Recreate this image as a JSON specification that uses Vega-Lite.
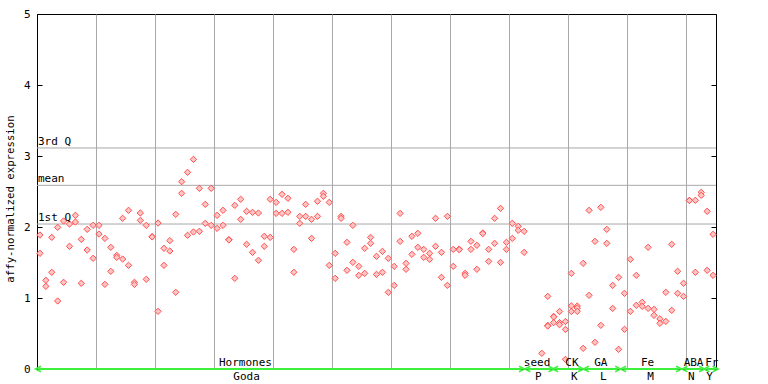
{
  "$schema": "https://vega.github.io/schema/vega-lite/v6.json",
  "width": 679,
  "height": 355,
  "autosize": {"type": "none"},
  "padding": {"left": 37, "top": 14, "right": 52, "bottom": 15},
  "background": "white",
  "config": {
    "view": {"stroke": "black", "strokeWidth": 1},
    "font": "DejaVu Sans Mono",
    "axis": {"labelFont": "DejaVu Sans Mono", "titleFont": "DejaVu Sans Mono"},
    "axisX": {"labels": false, "ticks": false, "domain": false, "grid": true, "gridColor": "#a9a9a9", "gridOpacity": 1}
  },
  "datasets": {
    "pts": [
      {"s":0,"v":1.887},{"s":0,"v":1.629},
      {"s":1,"v":1.249},{"s":1,"v":1.164},
      {"s":2,"v":1.854},{"s":2,"v":1.362},
      {"s":3,"v":1.995},{"s":3,"v":0.958},
      {"s":4,"v":2.085},{"s":4,"v":1.221},
      {"s":5,"v":2.042},{"s":5,"v":1.728},
      {"s":6,"v":2.164},{"s":6,"v":2.070},
      {"s":7,"v":1.826},{"s":7,"v":1.207},
      {"s":8,"v":1.967},{"s":8,"v":1.676},
      {"s":9,"v":2.023},{"s":9,"v":1.559},
      {"s":10,"v":2.023},{"s":10,"v":1.901},
      {"s":11,"v":1.840},{"s":11,"v":1.192},
      {"s":12,"v":1.714},{"s":12,"v":1.376},
      {"s":13,"v":1.601},{"s":13,"v":1.573},
      {"s":14,"v":2.122},{"s":14,"v":1.549},
      {"s":15,"v":2.235},{"s":15,"v":1.460},
      {"s":16,"v":1.221},{"s":16,"v":1.192},
      {"s":17,"v":2.197},{"s":17,"v":2.094},
      {"s":18,"v":2.023},{"s":18,"v":1.263},
      {"s":19,"v":1.864},{"s":19,"v":1.860},
      {"s":20,"v":2.056},{"s":20,"v":0.812},
      {"s":21,"v":1.700},{"s":21,"v":1.460},
      {"s":22,"v":1.808},{"s":22,"v":1.662},
      {"s":23,"v":2.178},{"s":23,"v":1.080},
      {"s":24,"v":2.638},{"s":24,"v":2.474},
      {"s":25,"v":2.770},{"s":25,"v":1.883},
      {"s":26,"v":2.953},{"s":26,"v":1.930},
      {"s":27,"v":2.545},{"s":27,"v":1.939},
      {"s":28,"v":2.319},{"s":28,"v":2.052},
      {"s":29,"v":2.545},{"s":29,"v":2.023},
      {"s":30,"v":2.164},{"s":30,"v":1.981},
      {"s":31,"v":2.235},{"s":31,"v":2.023},
      {"s":32,"v":1.822},{"s":32,"v":1.818},
      {"s":33,"v":2.305},{"s":33,"v":1.277},
      {"s":34,"v":2.390},{"s":34,"v":2.108},
      {"s":35,"v":2.221},{"s":35,"v":1.756},
      {"s":36,"v":2.207},{"s":36,"v":1.643},
      {"s":37,"v":2.197},{"s":37,"v":1.531},
      {"s":38,"v":1.869},{"s":38,"v":1.728},
      {"s":39,"v":2.390},{"s":39,"v":1.854},
      {"s":40,"v":2.347},{"s":40,"v":2.192},
      {"s":41,"v":2.460},{"s":41,"v":2.192},
      {"s":42,"v":2.404},{"s":42,"v":2.207},
      {"s":43,"v":1.685},{"s":43,"v":1.362},
      {"s":44,"v":2.150},{"s":44,"v":2.052},
      {"s":45,"v":2.319},{"s":45,"v":2.150},
      {"s":46,"v":2.108},{"s":46,"v":1.840},
      {"s":47,"v":2.362},{"s":47,"v":2.150},
      {"s":48,"v":2.474},{"s":48,"v":2.432},
      {"s":49,"v":2.347},{"s":49,"v":1.460},
      {"s":50,"v":1.629},{"s":50,"v":1.277},
      {"s":51,"v":2.150},{"s":51,"v":2.122},
      {"s":52,"v":1.784},{"s":52,"v":1.390},
      {"s":53,"v":2.023},{"s":53,"v":1.502},
      {"s":54,"v":1.446},{"s":54,"v":1.319},
      {"s":55,"v":1.700},{"s":55,"v":1.347},
      {"s":56,"v":1.854},{"s":56,"v":1.770},
      {"s":57,"v":1.587},{"s":57,"v":1.333},
      {"s":58,"v":1.657},{"s":58,"v":1.362},
      {"s":59,"v":1.559},{"s":59,"v":1.080},
      {"s":60,"v":1.446},{"s":60,"v":1.178},
      {"s":61,"v":2.192},{"s":61,"v":1.798},
      {"s":62,"v":1.488},{"s":62,"v":1.404},
      {"s":63,"v":1.869},{"s":63,"v":1.615},
      {"s":64,"v":1.911},{"s":64,"v":1.714},
      {"s":65,"v":1.685},{"s":65,"v":1.573},
      {"s":66,"v":1.629},{"s":66,"v":1.545},
      {"s":67,"v":2.122},{"s":67,"v":1.728},
      {"s":68,"v":1.643},{"s":68,"v":1.291},
      {"s":69,"v":2.150},{"s":69,"v":1.178},
      {"s":70,"v":1.685},{"s":70,"v":1.446},
      {"s":71,"v":1.689},{"s":71,"v":1.681},
      {"s":72,"v":1.347},{"s":72,"v":1.319},
      {"s":73,"v":1.798},{"s":73,"v":1.685},
      {"s":74,"v":1.742},{"s":74,"v":1.404},
      {"s":75,"v":1.915},{"s":75,"v":1.907},
      {"s":76,"v":1.685},{"s":76,"v":1.516},
      {"s":77,"v":2.122},{"s":77,"v":1.770},
      {"s":78,"v":2.263},{"s":78,"v":1.502},
      {"s":79,"v":1.784},{"s":79,"v":1.685},
      {"s":80,"v":2.052},{"s":80,"v":1.840},
      {"s":81,"v":2.009},{"s":81,"v":1.953},
      {"s":82,"v":1.939},{"s":82,"v":1.643},
      {"s":85,"v":0.221},
      {"s":86,"v":1.023},{"s":86,"v":0.615},{"s":86,"v":0.605},
      {"s":87,"v":0.741},{"s":87,"v":0.733},{"s":87,"v":0.653},
      {"s":88,"v":0.810},{"s":88,"v":0.653},{"s":88,"v":0.624},
      {"s":89,"v":0.669},{"s":89,"v":0.557},{"s":89,"v":0.136},
      {"s":90,"v":1.347},{"s":90,"v":0.889},{"s":90,"v":0.810},
      {"s":91,"v":0.887},{"s":91,"v":0.859},{"s":91,"v":0.812},
      {"s":92,"v":1.488},{"s":92,"v":0.291},
      {"s":93,"v":2.235},{"s":93,"v":1.038},
      {"s":94,"v":1.798},{"s":94,"v":0.376},
      {"s":95,"v":2.277},{"s":95,"v":0.615},
      {"s":96,"v":1.967},{"s":96,"v":1.770},
      {"s":97,"v":1.178},{"s":97,"v":0.854},
      {"s":98,"v":1.291},{"s":98,"v":0.277},
      {"s":99,"v":1.066},{"s":99,"v":0.559},
      {"s":100,"v":1.545},{"s":100,"v":0.812},
      {"s":101,"v":1.319},{"s":101,"v":0.897},
      {"s":102,"v":0.939},{"s":102,"v":0.883},
      {"s":103,"v":1.714},{"s":103,"v":0.854},
      {"s":104,"v":0.840},{"s":104,"v":0.756},
      {"s":105,"v":0.707},{"s":105,"v":0.643},
      {"s":106,"v":1.080},{"s":106,"v":0.671},
      {"s":107,"v":1.756},{"s":107,"v":0.826},
      {"s":108,"v":1.376},{"s":108,"v":1.066},
      {"s":109,"v":1.207},{"s":109,"v":1.023},
      {"s":110,"v":2.376},{"s":110,"v":2.372},
      {"s":111,"v":2.376},{"s":111,"v":1.362},
      {"s":112,"v":2.488},{"s":112,"v":2.446},
      {"s":113,"v":2.221},{"s":113,"v":1.390},
      {"s":114,"v":1.897},{"s":114,"v":1.319}
    ],
    "stats": [
      {"name": "3rd Q", "q": 3.113},
      {"name": "mean", "q": 2.587},
      {"name": "1st Q", "q": 2.042}
    ],
    "groups": [
      {"top": "Hormones", "bottom": "Goda", "a": -0.3, "b": 81.6, "tx": 34.8, "bx": 35.0},
      {"top": "seed", "bottom": "P", "a": 82.6, "b": 86.6, "tx": 84.2, "bx": 84.4},
      {"top": "CK", "bottom": "K", "a": 87.3, "b": 91.6, "tx": 90.1, "bx": 90.5},
      {"top": "GA", "bottom": "L", "a": 92.5, "b": 97.9, "tx": 95.0, "bx": 95.4},
      {"top": "Fe", "bottom": "M", "a": 98.8, "b": 108.2, "tx": 102.9, "bx": 103.4},
      {"top": "ABA", "bottom": "N", "a": 109.2, "b": 112.1, "tx": 110.7, "bx": 110.3},
      {"top": "Fr", "bottom": "Y", "a": 112.9, "b": 114.4, "tx": 113.8, "bx": 113.4}
    ]
  },
  "layer": [
    {
      "data": {"name": "stats"},
      "mark": {"type": "rule", "color": "#a9a9a9", "strokeWidth": 1},
      "encoding": {
        "y": {"field": "q", "type": "quantitative", "scale": {"domain": [0, 5], "nice": false, "zero": true},
          "axis": {"orient": "left", "offset": -5, "tickSize": 5, "values": [0, 1, 2, 3, 4, 5], "labels": false, "domain": false, "grid": false, "title": null, "tickColor": "black"}}
      }
    },
    {
      "data": {"name": "pts"},
      "mark": {"type": "point", "shape": "diamond", "filled": true, "fill": "#ffc4c4", "stroke": "#ff5050", "strokeWidth": 1, "size": 40, "opacity": 1},
      "encoding": {
        "x": {"field": "s", "type": "quantitative", "title": null, "scale": {"domain": [-0.5, 114.5], "nice": false, "zero": false},
          "axis": {"values": [9.5, 19.5, 29.5, 39.5, 49.5, 59.5, 69.5, 79.5, 89.5, 99.5, 109.5], "grid": true, "gridColor": "#a9a9a9", "gridOpacity": 1, "labels": false, "ticks": false, "domain": false, "title": null}},
        "y": {"field": "v", "type": "quantitative",
          "axis": {"orient": "left", "values": [0, 1, 2, 3, 4, 5], "ticks": false, "labelPadding": 7, "labelFontSize": 11, "labelColor": "black", "domain": true, "domainColor": "black", "grid": false,
            "title": "affy-normalized expression", "titleFontSize": 10.7, "titleFontWeight": "normal", "titleColor": "black", "titlePadding": 8, "titleY": 184.5}}
      }
    },
    {
      "data": {"name": "stats"},
      "mark": {"type": "text", "align": "left", "baseline": "alphabetic", "dx": 1, "dy": -3, "fontSize": 11, "color": "black"},
      "encoding": {
        "x": {"datum": -0.5, "type": "quantitative", "title": null},
        "y": {"field": "q", "type": "quantitative",
          "axis": {"orient": "right", "offset": -5, "tickSize": 5, "values": [0, 1, 2, 3, 4, 5], "labels": false, "domain": false, "grid": false, "title": null, "tickColor": "black"}},
        "text": {"field": "name"}
      }
    },
    {
      "data": {"name": "groups"},
      "mark": {"type": "rule", "color": "#3cf03c", "strokeWidth": 2},
      "encoding": {
        "x": {"field": "a", "type": "quantitative", "title": null},
        "x2": {"field": "b"},
        "y": {"datum": 0, "type": "quantitative", "axis": null}
      }
    },
    {
      "data": {"name": "groups"},
      "mark": {"type": "point", "shape": "M 1 -1 L -1 0 L 1 1", "filled": false, "stroke": "#3cf03c", "strokeWidth": 1.5, "size": 30, "opacity": 1},
      "encoding": {
        "x": {"field": "a", "type": "quantitative", "title": null},
        "y": {"datum": 0, "type": "quantitative", "axis": null}
      }
    },
    {
      "data": {"name": "groups"},
      "mark": {"type": "point", "shape": "M -1 -1 L 1 0 L -1 1", "filled": false, "stroke": "#3cf03c", "strokeWidth": 1.5, "size": 30, "opacity": 1},
      "encoding": {
        "x": {"field": "b", "type": "quantitative", "title": null},
        "y": {"datum": 0, "type": "quantitative", "axis": null}
      }
    },
    {
      "data": {"name": "groups"},
      "mark": {"type": "text", "align": "center", "baseline": "alphabetic", "dy": -3, "fontSize": 11, "color": "black"},
      "encoding": {
        "x": {"field": "tx", "type": "quantitative", "title": null},
        "y": {"datum": 0, "type": "quantitative", "axis": null},
        "text": {"field": "top"}
      }
    },
    {
      "data": {"name": "groups"},
      "mark": {"type": "text", "align": "center", "baseline": "alphabetic", "dy": 11, "fontSize": 11, "color": "black"},
      "encoding": {
        "x": {"field": "bx", "type": "quantitative", "title": null},
        "y": {"datum": 0, "type": "quantitative", "axis": null},
        "text": {"field": "bottom"}
      }
    }
  ],
  "resolve": {"axis": {"y": "independent"}}
}
